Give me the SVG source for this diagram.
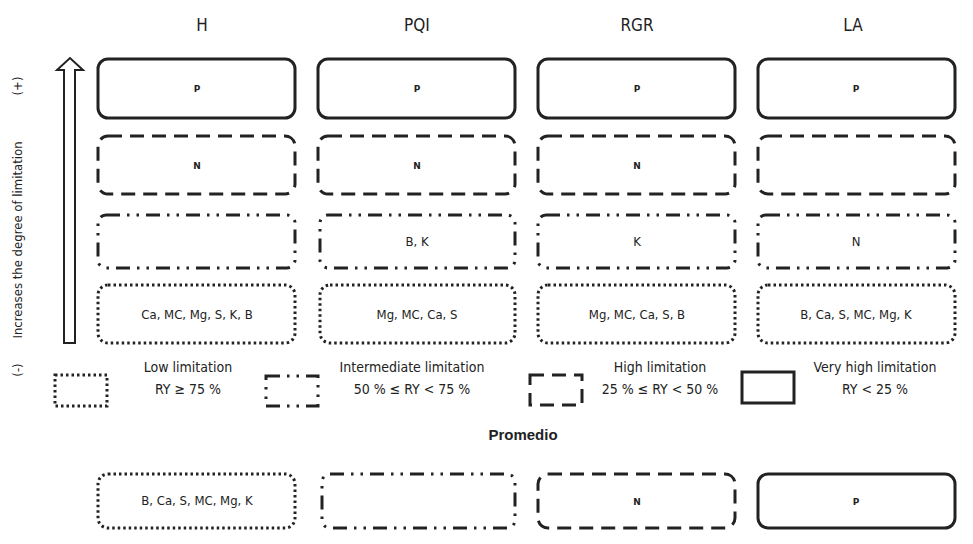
<svg xmlns="http://www.w3.org/2000/svg" width="973" height="544" viewBox="0 0 973 544">
<style>
text{font-family:"Liberation Sans Narrow","DejaVu Sans Condensed","Liberation Sans",sans-serif;fill:#222;text-anchor:middle}
.hdr{font-size:17px}
.lbl{font-size:13px}
.sm{font-size:9px;font-weight:bold;font-family:"DejaVu Sans","Liberation Sans",sans-serif}
.leg{font-size:14px}
.side{font-size:13px}
.box{fill:none;stroke:#222;stroke-width:3}
.dash{stroke-dasharray:14 8}
.dd{stroke-dasharray:14 7 2.5 7 2.5 7}
.dot{stroke-dasharray:2.5 3;stroke-width:3}
</style>
<rect width="973" height="544" fill="#fff"/>
<g id="headers">
<text class="hdr" x="202" y="31">H</text>
<text class="hdr" x="417" y="31">PQI</text>
<text class="hdr" x="637" y="31">RGR</text>
<text class="hdr" x="853" y="31">LA</text>
</g>
<g id="axis">
<path d="M64,343 V70 H57 L70,58 L83,70 H75 V343 Z" fill="none" stroke="#222" stroke-width="2"/>
<text class="side" transform="translate(22,240) rotate(-90)">Increases the degree of limitation</text>
<text class="side" transform="translate(22,86) rotate(-90)">(+)</text>
<text class="side" transform="translate(22,370) rotate(-90)">(-)</text>
</g>
<g id="row1">
<g id="H-P"><rect class="box" x="98" y="59" width="197" height="59" rx="10"/><text class="sm" x="197" y="92">P</text></g>
<g id="PQI-P"><rect class="box" x="318" y="59" width="197" height="59" rx="10"/><text class="sm" x="417" y="92">P</text></g>
<g id="RGR-P"><rect class="box" x="538" y="59" width="197" height="59" rx="10"/><text class="sm" x="637" y="92">P</text></g>
<g id="LA-P"><rect class="box" x="758" y="59" width="197" height="59" rx="10"/><text class="sm" x="856" y="92">P</text></g>
</g>
<g id="row2">
<g id="H-N"><rect class="box dash" x="98" y="136" width="197" height="58" rx="10"/><text class="sm" x="197" y="169">N</text></g>
<g id="PQI-N"><rect class="box dash" x="318" y="136" width="197" height="58" rx="10"/><text class="sm" x="417" y="169">N</text></g>
<g id="RGR-N"><rect class="box dash" x="538" y="136" width="197" height="58" rx="10"/><text class="sm" x="637" y="169">N</text></g>
<g id="LA-empty2"><rect class="box dash" x="758" y="136" width="197" height="58" rx="10"/></g>
</g>
<g id="row3">
<g id="H-empty3"><rect class="box dd" x="98" y="215" width="197" height="53" rx="8"/></g>
<g id="PQI-BK"><rect class="box dd" x="320" y="215" width="195" height="53" rx="8"/><text class="lbl" x="417" y="246">B, K</text></g>
<g id="RGR-K"><rect class="box dd" x="538" y="215" width="197" height="53" rx="8"/><text class="lbl" x="637" y="246">K</text></g>
<g id="LA-N"><rect class="box dd" x="758" y="215" width="197" height="53" rx="8"/><text class="lbl" x="856" y="246">N</text></g>
</g>
<g id="row4">
<g id="H-low"><rect class="box dot" x="98" y="285" width="197" height="58" rx="10"/><text class="lbl" x="197" y="319">Ca, MC, Mg, S, K, B</text></g>
<g id="PQI-low"><rect class="box dot" x="320" y="285" width="195" height="58" rx="10"/><text class="lbl" x="417" y="319">Mg, MC, Ca, S</text></g>
<g id="RGR-low"><rect class="box dot" x="538" y="285" width="197" height="58" rx="10"/><text class="lbl" x="637" y="319">Mg, MC, Ca, S, B</text></g>
<g id="LA-low"><rect class="box dot" x="758" y="285" width="197" height="58" rx="10"/><text class="lbl" x="856" y="319">B, Ca,  S, MC, Mg,  K</text></g>
</g>
<g id="legend">
<g id="leg-low"><rect class="box dot" x="55" y="375" width="52" height="31"/><text class="leg" x="188" y="372">Low limitation</text><text class="leg" x="188" y="394">RY ≥ 75 %</text></g>
<g id="leg-int"><rect class="box dd" x="266" y="376" width="52" height="30"/><text class="leg" x="412" y="372">Intermediate limitation</text><text class="leg" x="412" y="394">50 % ≤ RY &lt; 75 %</text></g>
<g id="leg-high"><rect class="box dash" x="530" y="375" width="52" height="30"/><text class="leg" x="660" y="372">High limitation</text><text class="leg" x="660" y="394">25 % ≤ RY &lt; 50 %</text></g>
<g id="leg-vhigh"><rect class="box" x="742" y="372" width="52" height="31"/><text class="leg" x="875" y="372">Very high limitation</text><text class="leg" x="875" y="394">RY &lt; 25 %</text></g>
</g>
<text x="523" y="440" style="font-family:'Liberation Sans',sans-serif;font-weight:bold;font-size:15px">Promedio</text>
<g id="promedio">
<g id="avg-H"><rect class="box dot" x="98" y="474" width="197" height="54" rx="10"/><text class="lbl" x="197" y="505">B, Ca,  S, MC, Mg,  K</text></g>
<g id="avg-PQI"><rect class="box dd" x="322" y="474" width="193" height="54" rx="8"/></g>
<g id="avg-RGR"><rect class="box dash" x="538" y="474" width="197" height="54" rx="10"/><text class="sm" x="637" y="505">N</text></g>
<g id="avg-LA"><rect class="box" x="758" y="474" width="197" height="54" rx="10"/><text class="sm" x="856" y="505">P</text></g>
</g>
<g id="connectors"></g>
</svg>
